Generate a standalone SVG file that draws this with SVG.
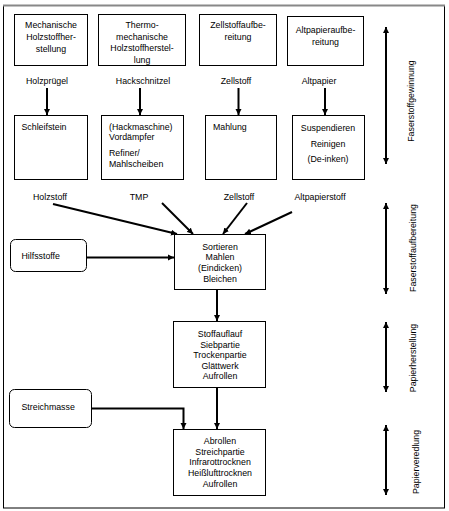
<svg xmlns="http://www.w3.org/2000/svg" width="449" height="511" viewBox="0 0 449 511">
<defs>
<marker id="ah" viewBox="0 0 10 10" refX="10" refY="5" markerWidth="3" markerHeight="3.2" orient="auto-start-reverse" markerUnits="strokeWidth">
<path d="M0,0 L10,5 L0,10 Z" fill="#000"/>
</marker>
<style>
text{font-family:"Liberation Sans",Arial,sans-serif;font-size:8.8px;fill:#000}
.c{text-anchor:middle}
.box{fill:#fff;stroke:#000;stroke-width:1}
.ln{fill:none;stroke:#000;stroke-width:2;marker-end:url(#ah)}
.dbl{fill:none;stroke:#000;stroke-width:2;marker-end:url(#ah);marker-start:url(#ah)}
</style>
</defs>
<rect x="0" y="0" width="449" height="511" fill="#fff"/>
<rect x="3.5" y="5.5" width="441" height="502.5" fill="none" stroke="#000" stroke-width="1"/>
<line x1="3" y1="5.5" x2="445" y2="5.5" stroke="#888" stroke-width="2"/>

<g id="n1"><rect class="box" x="14.5" y="14.5" width="73" height="51"/>
<text class="c" x="51" y="28">Mechanische</text><text class="c" x="51" y="40">Holzstoffher-</text><text class="c" x="51" y="52">stellung</text></g>
<g id="n2"><rect class="box" x="98.5" y="14.5" width="87" height="51"/>
<text class="c" x="142" y="28">Thermo-</text><text class="c" x="142" y="40">mechanische</text><text class="c" x="142" y="51">Holzstoffherstel-</text><text class="c" x="142" y="63">lung</text></g>
<g id="n3"><rect class="box" x="199.5" y="14.5" width="77" height="51"/>
<text class="c" x="238" y="28">Zellstoffaufbe-</text><text class="c" x="238" y="40">reitung</text></g>
<g id="n4"><rect class="box" x="287.5" y="16.5" width="76" height="49"/>
<text class="c" x="325.5" y="33">Altpapieraufbe-</text><text class="c" x="325.5" y="45">reitung</text></g>

<g id="l1"><text class="c" x="47" y="84">Holzprügel</text></g>
<g id="l2"><text class="c" x="143" y="84">Hackschnitzel</text></g>
<g id="l3"><text class="c" x="236" y="84">Zellstoff</text></g>
<g id="l4"><text class="c" x="319" y="84">Altpapier</text></g>

<g id="n5"><rect class="box" x="14.5" y="115.5" width="73" height="64"/>
<text x="21.5" y="130">Schleifstein</text></g>
<g id="n6"><rect class="box" x="101.5" y="115.5" width="82" height="64"/>
<text x="109" y="130">(Hackmaschine)</text><text x="109" y="140">Vordämpfer</text><text x="109" y="156">Refiner/</text><text x="109" y="167">Mahlscheiben</text></g>
<g id="n7"><rect class="box" x="205.5" y="115.5" width="71" height="64"/>
<text x="213" y="130">Mahlung</text></g>
<g id="n8"><rect class="box" x="292.5" y="115.5" width="72" height="64"/>
<text class="c" x="328" y="130.5">Suspendieren</text><text class="c" x="328" y="147">Reinigen</text><text class="c" x="328" y="162">(De-inken)</text></g>

<g id="l5"><text class="c" x="50" y="200">Holzstoff</text></g>
<g id="l6"><text class="c" x="139" y="200">TMP</text></g>
<g id="l7"><text class="c" x="239" y="200">Zellstoff</text></g>
<g id="l8"><text class="c" x="320" y="200">Altpapierstoff</text></g>

<g id="n9"><rect x="10.5" y="239.5" width="76" height="32" rx="5" class="box"/>
<text x="21.5" y="259">Hilfsstoffe</text></g>
<g id="n10"><rect class="box" x="174.5" y="234.5" width="91" height="55"/>
<text class="c" x="220" y="249.5">Sortieren</text><text class="c" x="220" y="260">Mahlen</text><text class="c" x="220" y="271">(Eindicken)</text><text class="c" x="220" y="282">Bleichen</text></g>

<g id="n11"><rect class="box" x="173.5" y="321.5" width="92" height="66"/>
<text class="c" x="220" y="337">Stoffauflauf</text><text class="c" x="220" y="347.5">Siebpartie</text><text class="c" x="220" y="358">Trockenpartie</text><text class="c" x="220" y="368.5">Glättwerk</text><text class="c" x="220" y="379">Aufrollen</text></g>

<g id="n12"><rect x="9.5" y="389.5" width="82" height="38" rx="5" class="box"/>
<text x="21.5" y="410">Streichmasse</text></g>
<g id="n13"><rect class="box" x="173.5" y="429.5" width="92" height="66"/>
<text class="c" x="220" y="444">Abrollen</text><text class="c" x="220" y="454.5">Streichpartie</text><text class="c" x="220" y="465">Infrarottrocknen</text><text class="c" x="220" y="476">Heißlufttrocknen</text><text class="c" x="220" y="486.5">Aufrollen</text></g>

<g id="side">
<text transform="translate(413.5,101) rotate(-90)" class="c">Faserstoffgewinnung</text>
<text transform="translate(416,248) rotate(-90)" class="c">Faserstoffaufbereitung</text>
<text transform="translate(416,358) rotate(-90)" class="c">Papierherstellung</text>
<text transform="translate(418.5,462) rotate(-90)" class="c">Papierveredlung</text>
</g>

<g id="connectors">
<line class="ln" x1="47" y1="88" x2="47" y2="115"/>
<line class="ln" x1="140" y1="88" x2="140" y2="115"/>
<line class="ln" x1="238.5" y1="88" x2="238.5" y2="115"/>
<line class="ln" x1="325" y1="88" x2="325" y2="115"/>
<line class="ln" x1="53" y1="204" x2="177" y2="234"/>
<line class="ln" x1="162" y1="203" x2="193" y2="234"/>
<line class="ln" x1="247" y1="203" x2="223" y2="234"/>
<line class="ln" x1="292" y1="212" x2="245" y2="234"/>
<line class="ln" x1="87" y1="257.5" x2="174" y2="257.5"/>
<line class="ln" x1="217" y1="290" x2="217" y2="321"/>
<line class="ln" x1="217" y1="388" x2="217" y2="429"/>
<polyline class="ln" points="92,408.5 183.5,408.5 183.5,429"/>
<line class="dbl" x1="386" y1="27" x2="386" y2="164"/>
<line class="dbl" x1="386" y1="203" x2="386" y2="294"/>
<line class="dbl" x1="386" y1="322" x2="386" y2="392"/>
<line class="dbl" x1="386" y1="425" x2="386" y2="495"/>
</g>
</svg>
